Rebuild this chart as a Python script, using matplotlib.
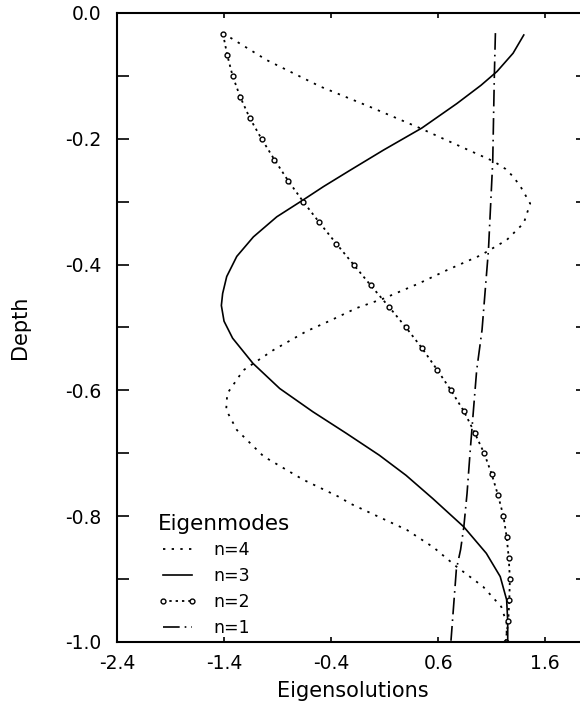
import matplotlib
matplotlib.use('Agg')
import matplotlib.pyplot as plt
from matplotlib.ticker import MultipleLocator, FormatStrFormatter

depth_n1 = [-0.032, -0.10, -0.236, -0.377, -0.504, -0.568, -0.631, -0.695,
            -0.764, -0.817, -0.853, -0.885, -0.953, -0.998]
eig_n1 = [1.135, 1.125, 1.11, 1.07, 1.01, 0.96, 0.93, 0.90,
          0.87, 0.84, 0.81, 0.77, 0.74, 0.72]

depth_n2 = [-0.033, -0.067, -0.100, -0.133, -0.167, -0.200, -0.233, -0.267,
            -0.300, -0.333, -0.367, -0.400, -0.433, -0.467, -0.500, -0.533,
            -0.567, -0.600, -0.633, -0.667, -0.700, -0.733, -0.767, -0.800,
            -0.833, -0.867, -0.900, -0.933, -0.967, -1.000]
eig_n2 = [-1.41, -1.37, -1.32, -1.25, -1.16, -1.05, -0.93, -0.80,
          -0.66, -0.51, -0.35, -0.19, -0.03, 0.14, 0.30, 0.45,
          0.59, 0.72, 0.84, 0.94, 1.03, 1.10, 1.16, 1.21,
          1.24, 1.26, 1.27, 1.265, 1.255, 1.23]

depth_n3 = [-0.035, -0.064, -0.093, -0.115, -0.144, -0.183, -0.218, -0.250,
            -0.276, -0.297, -0.324, -0.356, -0.387, -0.419, -0.446, -0.465,
            -0.490, -0.517, -0.557, -0.597, -0.634, -0.668, -0.703, -0.735,
            -0.772, -0.817, -0.859, -0.896, -0.933, -0.967, -0.997]
eig_n3 = [1.40, 1.30, 1.15, 1.00, 0.775, 0.447, 0.089, -0.222,
          -0.471, -0.659, -0.907, -1.126, -1.281, -1.375, -1.413, -1.425,
          -1.40, -1.32, -1.13, -0.88, -0.57, -0.26, 0.05, 0.30,
          0.55, 0.84, 1.05, 1.18, 1.24, 1.25, 1.25]

depth_n4 = [-0.032, -0.075, -0.117, -0.149, -0.183, -0.207, -0.236, -0.248,
            -0.260, -0.276, -0.303, -0.334, -0.361, -0.385, -0.409, -0.430,
            -0.454, -0.469, -0.490, -0.506, -0.536, -0.568, -0.605, -0.631,
            -0.663, -0.705, -0.742, -0.769, -0.780, -0.822, -0.850, -0.880,
            -0.912, -0.944, -0.970, -0.998]
eig_n4 = [-1.41, -1.00, -0.50, -0.04, 0.43, 0.74, 1.12, 1.23,
          1.30, 1.37, 1.46, 1.40, 1.24, 1.00, 0.68, 0.42,
          0.09, -0.16, -0.42, -0.63, -0.94, -1.22, -1.37, -1.38,
          -1.28, -1.03, -0.66, -0.33, -0.22, 0.31, 0.56, 0.77,
          1.02, 1.19, 1.24, 1.24]

x_ticks = [-2.4, -1.4, -0.4, 0.6, 1.6]

plt.rcParams['font.family'] = ['DejaVu Sans']
plt.rcParams['axes.unicode_minus'] = False

fig = plt.figure(figsize=(5.8, 7.09), dpi=100)
ax = fig.add_axes([0.2017, 0.0945, 0.8121, 0.8872])

ax.plot(eig_n4, depth_n4, color='black', lw=1.3, linestyle=(0, (1.3, 3.5)), label='n=4')
ax.plot(eig_n3, depth_n3, color='black', lw=1.2, linestyle='-', label='n=3')
ax.plot(eig_n2, depth_n2, color='black', lw=1.3, linestyle=(0, (1.3, 2.2)),
        marker='o', ms=3.5, mfc='white', mec='black', mew=1.0, label='n=2')
ax.plot(eig_n1, depth_n1, color='black', lw=1.2, linestyle=(0, (10, 3, 1, 3)), label='n=1')

ax.set_xlim(-2.4, 2.0)
ax.set_ylim(-1.0, 0.0)
ax.set_xticks(x_ticks)
ax.xaxis.set_major_formatter(FormatStrFormatter('%.1f'))
ax.yaxis.set_major_locator(MultipleLocator(0.2))
ax.yaxis.set_minor_locator(MultipleLocator(0.1))
ax.yaxis.set_major_formatter(FormatStrFormatter('%.1f'))

ax.tick_params(axis='x', which='both', direction='in', top=True, length=3.6, width=1.2,
               labelsize=13.5, pad=9)
ax.tick_params(axis='y', which='both', direction='in', right=True, length=8.8, width=1.2,
               labelsize=13.5, pad=11)

for s in ax.spines.values():
    s.set_linewidth(1.5)

ax.set_xlabel('Eigensolutions', fontsize=15)
ax.set_ylabel('Depth', fontsize=15)
ax.xaxis.set_label_coords(0.5, -0.062)
ax.yaxis.set_label_coords(-0.185, 0.5)

leg = ax.legend(loc='upper left', bbox_to_anchor=(0.0865, 0.204), frameon=False,
                title='Eigenmodes', title_fontsize=15.5, fontsize=12.5,
                alignment='left', borderpad=0, borderaxespad=0,
                handlelength=2.3, handletextpad=0.92, labelspacing=0.45, numpoints=2)

fig.savefig('out.png', dpi=100)
